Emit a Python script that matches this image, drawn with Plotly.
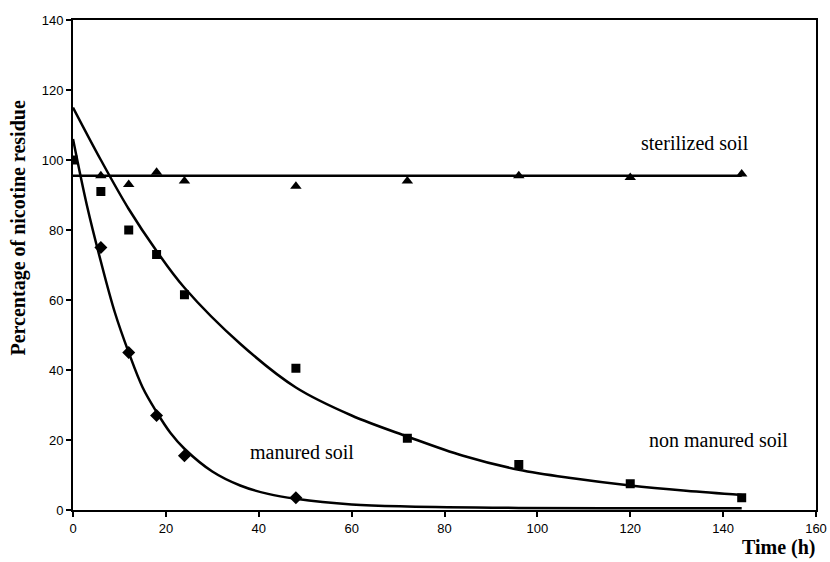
import plotly.graph_objects as go

# Measured data points
time_pts = [0, 6, 12, 18, 24, 48, 72, 96, 120, 144]
steril_t = [6, 12, 18, 24, 48, 72, 96, 120, 144]
steril_y = [95.5, 93, 96.5, 94, 92.5, 94, 95.5, 95, 96]
nonman_y = [100, 91, 80, 73, 61.5, 40.5, 20.5, 13, 7.5, 3.5]
man_t = [6, 12, 18, 24, 48]
man_y = [75, 45, 27, 15.5, 3.5]

# Fitted curves
steril_fit_t = [0, 144]
steril_fit_y = [95.5, 95.5]
nonman_fit_t = [0, 6, 12, 18, 24, 36, 48, 60, 72, 84, 96, 108, 120, 132, 144]
nonman_fit_y = [115, 100, 86, 74, 63.5, 47.5, 35, 27, 21, 15.5, 11.5, 9, 7, 5.5, 4.3]
man_fit_t = [0, 3, 6, 9, 12, 15, 18, 21, 24, 30, 36, 42, 48, 60, 72, 96, 120, 144]
man_fit_y = [106, 87, 71, 56.5, 45, 35, 28, 22, 17.5, 11, 7, 4.6, 3.2, 1.6, 1.0, 0.6, 0.5, 0.5]

x_ticks = [0, 20, 40, 60, 80, 100, 120, 140, 160]
y_ticks = [0, 20, 40, 60, 80, 100, 120, 140]

fig = go.Figure()
fig.add_trace(go.Scatter(x=steril_fit_t, y=steril_fit_y, mode="lines",
                         line=dict(color="black", width=2.5), showlegend=False))
fig.add_trace(go.Scatter(x=nonman_fit_t, y=nonman_fit_y, mode="lines",
                         line=dict(color="black", width=2.5, shape="spline"), showlegend=False))
fig.add_trace(go.Scatter(x=man_fit_t, y=man_fit_y, mode="lines",
                         line=dict(color="black", width=2.5, shape="spline"), showlegend=False))

fig.add_trace(go.Scatter(x=steril_t, y=steril_y, mode="markers",
                         marker=dict(symbol="triangle-up", size=10, color="black"), showlegend=False))
fig.add_trace(go.Scatter(x=time_pts, y=nonman_y, mode="markers",
                         marker=dict(symbol="square", size=9, color="black"), showlegend=False))
fig.add_trace(go.Scatter(x=man_t, y=man_y, mode="markers",
                         marker=dict(symbol="diamond", size=10, color="black"), showlegend=False))

serif = "Liberation Serif"
sans = "Liberation Sans"
fig.add_annotation(x=134, y=105, text="sterilized soil", showarrow=False,
                   font=dict(family=serif, size=20, color="black"))
fig.add_annotation(x=49.3, y=16.6, text="manured soil", showarrow=False,
                   font=dict(family=serif, size=20, color="black"))
fig.add_annotation(x=139, y=20, text="non manured soil", showarrow=False,
                   font=dict(family=serif, size=20, color="black"))
fig.add_annotation(xref="paper", yref="paper", x=1.003, y=-0.076, xanchor="right", yanchor="middle",
                   text="<b>Time (h)</b>", showarrow=False,
                   font=dict(family=serif, size=20, color="black"))
fig.add_annotation(xref="paper", yref="paper", x=-0.073, y=0.576, xanchor="center", yanchor="middle",
                   text="<b>Percentage of nicotine residue</b>", showarrow=False, textangle=-90,
                   font=dict(family=serif, size=20, color="black"))

fig.update_xaxes(range=[0, 160], tickvals=x_ticks, showline=True, linecolor="black", linewidth=2,
                 mirror=True, ticks="outside", ticklen=5, tickwidth=1.5, tickcolor="black",
                 showgrid=False, zeroline=False, automargin=False,
                 tickfont=dict(family=sans, size=13, color="black"))
fig.update_yaxes(range=[0, 140], tickvals=y_ticks, showline=True, linecolor="black", linewidth=2,
                 mirror=True, ticks="outside", ticklen=5, tickwidth=1.5, tickcolor="black",
                 showgrid=False, zeroline=False, automargin=False,
                 tickfont=dict(family=sans, size=13, color="black"))

fig.update_layout(width=830, height=562, margin=dict(l=73, r=14, t=20, b=52),
                  plot_bgcolor="white", paper_bgcolor="white")

fig.write_html("out.html", config={"displayModeBar": False},
               post_script="document.body.style.margin='0px';document.body.style.overflow='hidden';")
